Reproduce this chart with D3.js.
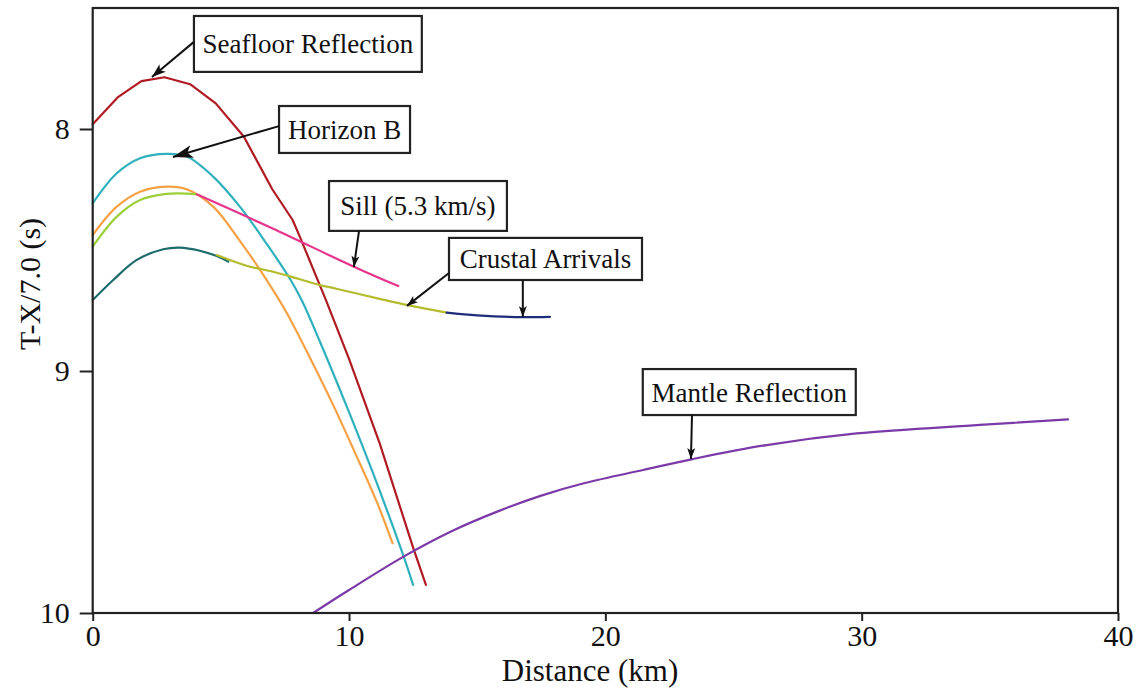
<!DOCTYPE html>
<html>
<head>
<meta charset="utf-8">
<script src="https://cdn.jsdelivr.net/npm/d3@7"></script>
<style>
  html, body { margin: 0; padding: 0; background: #fff; }
  svg { display: block; }
  text { font-family: "Liberation Serif", "Times New Roman", serif; fill: #111; }
</style>
</head>
<body>
<svg id="chart" width="1142" height="688"></svg>
<script>
// ---- data (distance km, reduced time s) ----
const seafloor = [[0,7.98],[1.0,7.867],[1.9,7.802],[2.8,7.786],[3.8,7.815],[4.8,7.894],[5.9,8.032],[7.0,8.248],[7.8,8.376],[8.1,8.45],[9.1,8.707],[10.0,8.95],[11.2,9.30],[12.5,9.73],[13.0,9.884]];
const horizonB = [[0,8.307],[0.94,8.183],[1.85,8.121],[2.89,8.103],[3.67,8.114],[4.70,8.197],[5.74,8.321],[6.79,8.475],[7.70,8.62],[8.15,8.707],[8.87,8.88],[10.0,9.17],[11.0,9.44],[12.11,9.76],[12.5,9.884]];
const orangeRefl = [[0,8.438],[0.94,8.321],[1.85,8.259],[2.89,8.238],[3.67,8.249],[4.70,8.321],[5.74,8.462],[6.7,8.61],[7.57,8.76],[8.5,8.95],[9.38,9.14],[10.2,9.33],[11.08,9.54],[11.7,9.712]];
const greenRefl = [[0,8.486],[0.94,8.362],[1.85,8.293],[2.89,8.268],[3.4,8.266],[4.06,8.27]];
const sill = [[4.06,8.27],[7.0,8.41],[10.23,8.571],[11.92,8.649]];
const deepRefl = [[0,8.707],[0.8,8.624],[1.72,8.541],[2.75,8.497],[3.40,8.490],[4.18,8.503],[4.84,8.525],[5.29,8.548]];
const crustal = [[4.84,8.521],[6.0,8.565],[7.04,8.59],[8.08,8.621],[8.87,8.645],[9.5,8.66],[11.2,8.702],[12.25,8.727],[13.81,8.759]];
const crustalFar = [[13.81,8.759],[15.0,8.770],[16.5,8.777],[17.84,8.776]];
const mantle = [[8.6,10.0],[10.0,9.905],[12.11,9.768],[14.0,9.662],[15.88,9.577],[17.5,9.515],[19.2,9.463],[21.47,9.409],[23.36,9.365],[26.29,9.306],[29.8,9.258],[34.6,9.223],[38.05,9.2]];

const xTicks = [0, 10, 20, 30, 40];
const yTicks = [8, 9, 10];

// annotation labels: box corners and arrows in data units
const labelTexts = ["Seafloor Reflection", "Horizon B", "Sill (5.3 km/s)", "Crustal Arrivals", "Mantle Reflection"];
const labelBoxes = [[3.95,7.533,12.84,7.764],[7.27,7.905,12.38,8.099],[9.22,8.215,16.16,8.421],[13.9,8.450,21.43,8.624],[21.46,8.992,29.77,9.182]];
const labelArrows = [
  [[3.95,7.640,2.31,7.785,'mid']],
  [[7.27,7.988,3.13,8.116,'big']],
  [[10.39,8.421,10.19,8.570,'small']],
  [[13.9,8.595,12.26,8.731,'small'],[16.78,8.624,16.78,8.777,'small']],
  [[23.38,9.182,23.34,9.364,'small']]
];

// ---- drawing ----
const svg = d3.select('#chart');
const L = 92.7, R = 1118, T = 8, B = 613;
const x = d3.scaleLinear().domain([0, 40]).range([L, R]);
const y = d3.scaleLinear().domain([7.5, 10]).range([T, B]);

const defs = svg.append('defs');
[['big', 20, 13], ['mid', 14, 10], ['small', 11, 8]].forEach(([id, len, wid]) => {
  defs.append('marker').attr('id', 'ah-' + id)
    .attr('viewBox', `0 0 ${len} ${wid}`).attr('refX', len).attr('refY', wid / 2)
    .attr('markerWidth', len).attr('markerHeight', wid).attr('markerUnits', 'userSpaceOnUse')
    .attr('orient', 'auto')
    .append('path').attr('d', `M0,0L${len},${wid/2}L0,${wid}L${len*0.25},${wid/2}Z`).attr('fill', '#111');
});

const lineLin = d3.line().x(d => x(d[0])).y(d => y(d[1]));
const lineSmooth = d3.line().x(d => x(d[0])).y(d => y(d[1])).curve(d3.curveCatmullRom.alpha(0.5));
const series = [
  [seafloor, '#b01a22', lineLin],
  [horizonB, '#2fb0bd', lineSmooth],
  [orangeRefl, '#f7a145', lineSmooth],
  [greenRefl, '#9ccf3a', lineSmooth],
  [deepRefl, '#1d6b6b', lineSmooth],
  [crustal, '#b4bb2c', lineSmooth],
  [crustalFar, '#1e2d7b', lineSmooth],
  [sill, '#e8338d', lineSmooth],
  [mantle, '#7b3aa8', lineSmooth]
];
svg.append('g').selectAll('path').data(series).join('path')
  .attr('d', d => d[2](d[0])).attr('fill', 'none')
  .attr('stroke', d => d[1]).attr('stroke-width', 2.2)
  .attr('stroke-linejoin', 'round').attr('stroke-linecap', 'round');

// axes
const xAxis = d3.axisBottom(x).tickValues(xTicks).tickSize(8).tickPadding(4).tickFormat(d3.format('d'));
const yAxis = d3.axisLeft(y).tickValues(yTicks).tickSize(13).tickPadding(10).tickFormat(d3.format('d'));
const gx = svg.append('g').attr('transform', `translate(0,${B})`).call(xAxis);
const gy = svg.append('g').attr('transform', `translate(${L},0)`).call(yAxis);
[gx, gy].forEach(g => {
  g.select('.domain').remove();
  g.selectAll('line').attr('stroke', '#222').attr('stroke-width', 2);
  g.selectAll('text').style('font-family', '"Liberation Serif", serif').style('font-size', '30px').attr('fill', '#111');
});

svg.append('rect').attr('x', L).attr('y', T).attr('width', R - L).attr('height', B - T)
  .attr('fill', 'none').attr('stroke', '#222').attr('stroke-width', 2.2);

svg.append('text').attr('x', 590).attr('y', 681).attr('text-anchor', 'middle')
  .style('font-size', '31px').text('Distance (km)');
svg.append('text').attr('transform', 'translate(40,284) rotate(-90)').attr('text-anchor', 'middle')
  .style('font-size', '30px').text('T-X/7.0 (s)');

// annotations
const ann = svg.append('g');
labelTexts.forEach((t, i) => {
  const b = labelBoxes[i];
  const x0 = x(b[0]), y0 = y(b[1]), x1 = x(b[2]), y1 = y(b[3]);
  ann.append('rect').attr('x', x0).attr('y', y0).attr('width', x1 - x0).attr('height', y1 - y0)
    .attr('fill', '#fff').attr('stroke', '#222').attr('stroke-width', 2.2);
  ann.append('text').attr('x', (x0 + x1) / 2).attr('y', (y0 + y1) / 2 + 9.5)
    .attr('text-anchor', 'middle').style('font-size', '27px').text(t);
  labelArrows[i].forEach(a => {
    ann.append('line').attr('x1', x(a[0])).attr('y1', y(a[1])).attr('x2', x(a[2])).attr('y2', y(a[3]))
      .attr('stroke', '#111').attr('stroke-width', 2).attr('marker-end', `url(#ah-${a[4]})`);
  });
});
</script>
</body>
</html>
